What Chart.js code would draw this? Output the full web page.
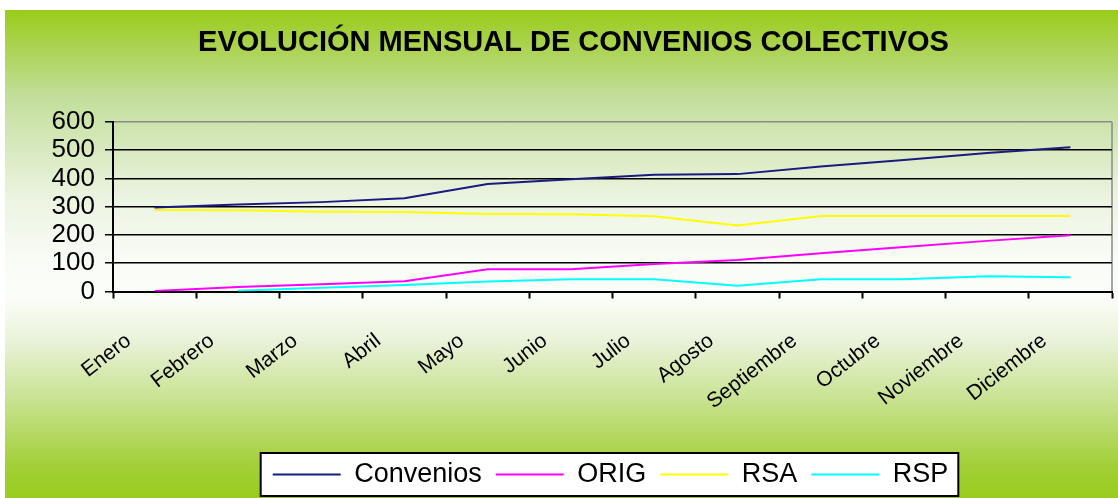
<!DOCTYPE html>
<html>
<head>
<meta charset="utf-8">
<script src="https://cdn.jsdelivr.net/npm/chart.js@4.4.0/dist/chart.umd.min.js"></script>
<style>
  html, body { margin: 0; padding: 0; background: #fff; }
  #wrap {
    position: absolute; left: 5px; top: 10px; width: 1113px; height: 488px;
    background: linear-gradient(180deg, #9acb1a 0%, #c3de9c 18%, #d9eac0 29%, #ecf4e2 39%,
      #f9fbf5 51%, #fbfdf8 59%, #e8f2d8 68%, #c8e290 80%, #a3d03a 93%, #99cc1e 100%);
  }
  canvas { display: block; }
</style>
</head>
<body>
<div id="wrap"><canvas id="chart" width="1113" height="488"></canvas></div>
<script>
const months = ['Enero', 'Febrero', 'Marzo', 'Abril', 'Mayo', 'Junio', 'Julio',
  'Agosto', 'Septiembre', 'Octubre', 'Noviembre', 'Diciembre'];

const convenios = [297, 308, 316, 330, 380, 397, 413, 415, 442, 465, 490, 510];
const orig      = [2, 16, 26, 36, 79, 79, 97, 111, 135, 157, 179, 199];
const rsa       = [288, 287, 282, 281, 274, 273, 266, 233, 267, 267, 267, 267];
const rsp       = [null, 3, 13, 23, 35, 43, 43, 20, 43, 43, 54, 50];

const yTicks = [0, 100, 200, 300, 400, 500, 600];

const FONT = '"Liberation Sans", Arial, sans-serif';

// title and legend sit a bit right of the canvas centre in the original
const TITLE_SHIFT = 15;
const LEGEND_SHIFT = 52;

const frameBox = {
  id: 'frameBox',
  afterLayout(chart) {
    chart.titleBlock.left += TITLE_SHIFT;
    chart.titleBlock.right += TITLE_SHIFT;
    chart.legend.left += LEGEND_SHIFT;
    chart.legend.right += LEGEND_SHIFT;
  },
  beforeDraw(chart) {
    const ctx = chart.ctx, a = chart.chartArea;
    ctx.save();
    // grey right edge of the plot frame
    ctx.strokeStyle = '#8a8a8a';
    ctx.lineWidth = 1.5;
    ctx.beginPath();
    ctx.moveTo(a.right, a.top);
    ctx.lineTo(a.right, a.bottom);
    ctx.stroke();

    // white box behind the legend
    const boxes = chart.legend.legendHitBoxes;
    if (boxes && boxes.length) {
      const first = boxes[0], last = boxes[boxes.length - 1];
      const x0 = first.left - 12, x1 = last.left + last.width + 10;
      const y0 = first.top - 8, y1 = first.top + first.height + 8;
      ctx.fillStyle = '#fff';
      ctx.fillRect(x0, y0, x1 - x0, y1 - y0);
      ctx.strokeStyle = '#000';
      ctx.lineWidth = 2;
      ctx.strokeRect(x0, y0, x1 - x0, y1 - y0);
    }
    ctx.restore();
  }
};

function line(label, data, color) {
  return {
    label: label,
    data: data,
    borderColor: color,
    backgroundColor: color,
    borderWidth: 2,
    pointRadius: 0,
    tension: 0
  };
}

new Chart(document.getElementById('chart'), {
  type: 'line',
  data: {
    labels: months,
    datasets: [
      line('Convenios', convenios, '#1a1a80'),
      line('ORIG', orig, '#ff00ff'),
      line('RSA', rsa, '#ffff00'),
      line('RSP', rsp, '#00ffff')
    ]
  },
  options: {
    responsive: false,
    animation: false,
    devicePixelRatio: 1,
    layout: { padding: { left: 0, right: 6, top: 0, bottom: 0 } },
    plugins: {
      title: {
        display: true,
        text: 'EVOLUCIÓN MENSUAL DE CONVENIOS COLECTIVOS',
        color: '#000',
        font: { family: FONT, size: 29, weight: 'bold' },
        padding: { top: 16, bottom: 61 }
      },
      legend: {
        position: 'bottom',
        labels: {
          color: '#000',
          font: { family: FONT, size: 27 },
          usePointStyle: true,
          pointStyle: 'line',
          pointStyleWidth: 68,
          boxHeight: 2,
          padding: 14
        }
      },
      tooltip: { enabled: false }
    },
    scales: {
      x: {
        offset: true,
        grid: {
          offset: true,
          drawOnChartArea: false,
          tickLength: 7,
          tickColor: '#000',
          tickWidth: 2
        },
        border: { color: '#000', width: 2 },
        ticks: {
          color: '#000',
          font: { family: FONT, size: 21 },
          minRotation: 38,
          maxRotation: 38,
          autoSkip: false,
          labelOffset: -26,
          padding: 30
        },
        afterFit(s) { s.height = 155.5; }
      },
      y: {
        min: 0,
        max: 600,
        afterBuildTicks(s) { s.ticks = yTicks.map(v => ({ value: v })); },
        grid: {
          color: ctx => ctx.tick && ctx.tick.value === 600 ? '#8a8a8a' : '#000',
          lineWidth: 1.5,
          tickLength: 8,
          tickColor: '#000',
          tickWidth: 1.5
        },
        border: { color: '#000', width: 2 },
        ticks: {
          color: '#000',
          font: { family: FONT, size: 26 },
          autoSkip: false,
          padding: 10
        },
        afterFit(s) { s.width = 108; }
      }
    }
  },
  plugins: [frameBox]
});
</script>
</body>
</html>
